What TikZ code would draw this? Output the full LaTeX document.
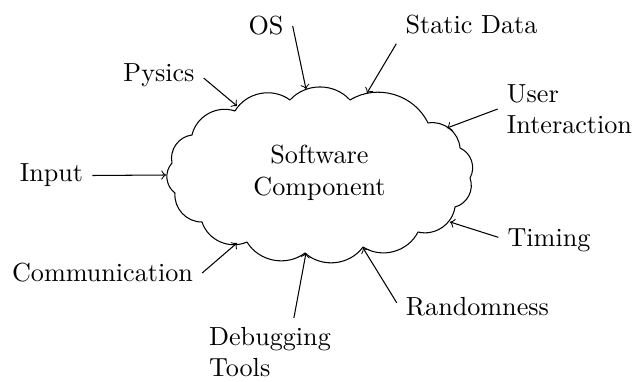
\documentclass[tikz,border=0pt]{standalone}
\begin{document}
\begin{tikzpicture}[x=0.3824pt,y=-0.3824pt,
  lbl/.style={align=left},
  puff/.style={bend left=48},
  feed/.style={->}]
\useasboundingbox (0,0) rectangle (635,382);
% cloud outline through its valleys
\draw[line join=round] (290,100) to[puff] (350,100) to[puff] (428,123) to[puff] (460,148)
  to[puff] (470,178) to[puff] (455,207) to[puff] (418,232) to[puff] (363,247)
  to[puff] (305,253) to[puff] (247,242) to[puff] (202,222) to[puff] (175,193)
  to[puff] (172,163) to[puff] (192,135) to[puff] (235,111) to[puff] (290,100);
\node[align=center] (c) at (319.5,173) {Software\\Component};
% where the arrows meet the cloud
\coordinate (tIn) at (166,175);
\coordinate (tPy) at (237,106);
\coordinate (tOS) at (306,89);
\coordinate (tSD) at (367,93);
\coordinate (tUI) at (447,128);
\coordinate (tTi) at (450,222);
\coordinate (tRa) at (363,248);
\coordinate (tDe) at (306,253);
\coordinate (tCo) at (237,243);
% labels
\node[lbl] (input) at (51.5,175.5) {Input};
\node[lbl] (pysics) at (159,75) {Pysics};
\node[lbl] (os) at (266,26) {OS};
\node[lbl] (static) at (471.5,25) {Static Data};
\node[lbl] (user) at (569.5,109) {User\\Interaction};
\node[lbl] (timing) at (549,240) {Timing};
\node[lbl] (random) at (477.5,307) {Randomness};
\node[lbl] (debug) at (270,352) {Debugging\\Tools};
\node[lbl] (comm) at (102.5,273) {Communication};
% arrows
\draw[feed] (input.east) -- (tIn);
\draw[feed] (pysics.-4) -- (tPy);
\draw[feed] (os.east) -- (tOS);
\draw[feed] (static.south west) -- (tSD);
\draw[feed] (user.west) -- (tUI);
\draw[feed] (timing.177) -- (tTi);
\draw[feed] (random.177) -- (tRa);
\draw[feed] (debug.55) -- (tDe);
\draw[feed] (comm.east) -- (tCo);
\end{tikzpicture}
\end{document}
